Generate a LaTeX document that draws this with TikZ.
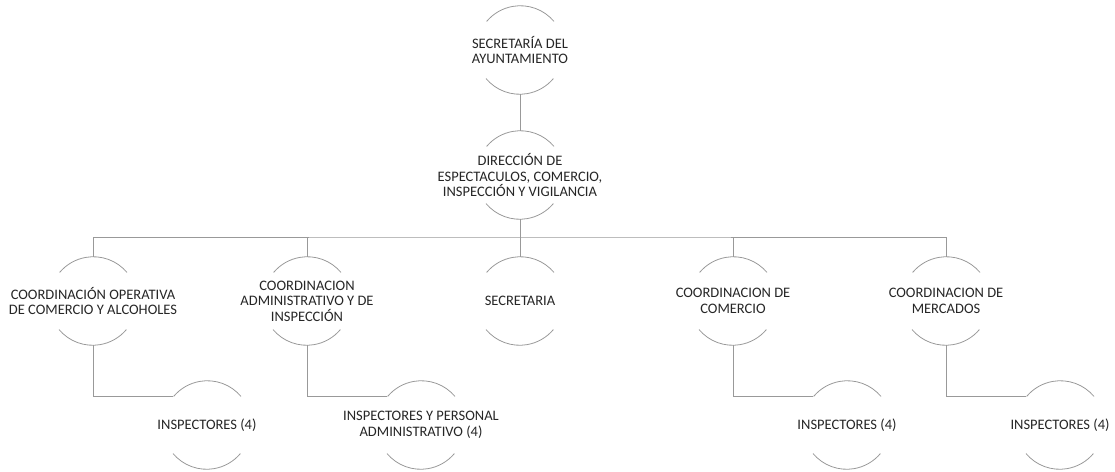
\documentclass[tikz,border=0pt]{standalone}
\usepackage{fontspec}
\setmainfont{Carlito}
\usepackage{tikz}
\usetikzlibrary{positioning}
\newdimen\nodeDist
\nodeDist=114pt

\begin{document}
\begin{tikzpicture}[
    x=1pt, y=-1pt,
    line width=0.8pt,
    unit/.style={%
      circle,
      minimum size=88pt,
      inner sep=0pt,
      label={[align=center, text=black!85,
        font=\fontsize{14.5}{15.5}\selectfont]center:#1},
    },
    link/.style={draw=black!40},
  ]
    \useasboundingbox (0,0) rectangle (1115,471);

    \node [unit={SECRETARÍA DEL\\AYUNTAMIENTO}] (sec) at (520,50) {};
    \node [unit={DIRECCIÓN DE\\ESPECTACULOS, COMERCIO,\\INSPECCIÓN Y VIGILANCIA}] (dir) at (520,175) {};
    \coordinate (bus) at (520,237);

    \node [unit={COORDINACIÓN OPERATIVA\\DE COMERCIO Y ALCOHOLES}] (coordOp) at (93,301) {};
    \node [unit={COORDINACION\\ADMINISTRATIVO Y DE\\INSPECCIÓN}] (coordAdm) at (307,301) {};
    \node [unit={SECRETARIA}] (secre) at (520,301) {};
    \node [unit={COORDINACION DE\\COMERCIO}] (coordCom) at (733,301) {};
    \node [unit={COORDINACION DE\\MERCADOS}] (coordMer) at (946,301) {};

    \path (coordOp) ++(\nodeDist,124) node [unit={INSPECTORES (4)}] (inspOp) {};
    \path (coordAdm) ++(\nodeDist,124) node [unit={INSPECTORES Y PERSONAL\\ADMINISTRATIVO (4)}] (inspAdm) {};
    \path (coordCom) ++(\nodeDist,124) node [unit={INSPECTORES (4)}] (inspCom) {};
    \path (coordMer) ++(\nodeDist,124) node [unit={INSPECTORES (4)}] (inspMer) {};

    % open circles (y axis points down, so angles are mirrored)
    \foreach \n in {sec,dir,coordOp,coordAdm,secre,coordCom,coordMer,inspOp,inspAdm,inspCom,inspMer}{
      \draw [link] (\n.40) arc (-40:-140:44);
      \draw [link] (\n.220) arc (140:40:44);
    }

    \draw [link] (sec.south) -- (dir.north);
    \draw [link] (dir.south) -- (bus);
    \draw [link] (coordOp.north) |- (bus) -| (coordMer.north);
    \draw [link] (coordAdm.north) -- (coordAdm.north |- bus);
    \draw [link] (secre.north) -- (bus);
    \draw [link] (coordCom.north) -- (coordCom.north |- bus);

    \draw [link] (coordOp.south) |- (inspOp.140);
    \draw [link] (coordAdm.south) |- (inspAdm.140);
    \draw [link] (coordCom.south) |- (inspCom.140);
    \draw [link] (coordMer.south) |- (inspMer.140);
\end{tikzpicture}
\end{document}
